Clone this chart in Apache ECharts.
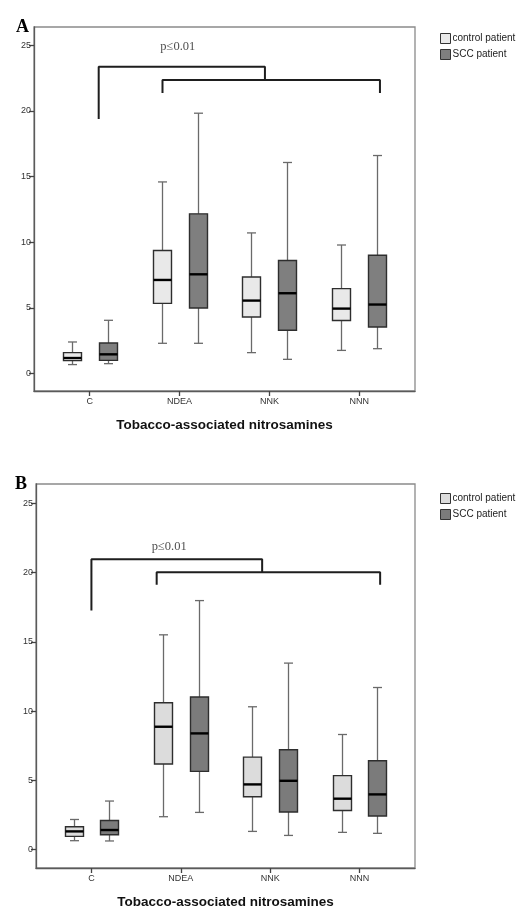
<!DOCTYPE html>
<html>
<head>
<meta charset="utf-8">
<script src="https://cdn.jsdelivr.net/npm/echarts@6/dist/echarts.min.js"></script>
<style>html,body{margin:0;padding:0;background:#fff;}#chart{width:516px;height:921px;}</style>
</head>
<body>
<div id="chart"></div>
<script>
// ---- data ----
const categories = ['C', 'NDEA', 'NNK', 'NNN'];
const yTicks = [0, 5, 10, 15, 20, 25];
const seriesNames = ['control patient', 'SCC patient'];
const axisTitle = 'Tobacco-associated nitrosamines';
const pLabel = 'p\u22640.01';

// [min, Q1, median, Q3, max] per category
const controlA = [
  [0.69, 0.99, 1.19, 1.60, 2.41],
  [2.31, 5.35, 7.13, 9.37, 14.59],
  [1.60, 4.31, 5.56, 7.36, 10.71],
  [1.77, 4.04, 4.95, 6.47, 9.79]
];
const sccA = [
  [0.76, 1.01, 1.47, 2.33, 4.06],
  [2.31, 5.00, 7.56, 12.16, 19.82],
  [1.09, 3.30, 6.12, 8.61, 16.07],
  [1.90, 3.55, 5.26, 9.01, 16.60]
];
const controlB = [
  [0.65, 0.96, 1.32, 1.66, 2.18],
  [2.38, 6.18, 8.87, 10.60, 15.50],
  [1.32, 3.82, 4.71, 6.68, 10.31],
  [1.25, 2.83, 3.68, 5.34, 8.31]
];
const sccB = [
  [0.63, 1.08, 1.42, 2.11, 3.51],
  [2.69, 5.65, 8.39, 11.01, 17.97],
  [1.03, 2.72, 4.97, 7.21, 13.46],
  [1.18, 2.43, 3.99, 6.42, 11.70]
];

// significance brackets: [x (category units), y]
const outerBracketA = [[0.10, 19.37], [0.10, 23.35], [1.95, 23.35], [1.95, 22.34]];
const innerBracketA = [[0.81, 21.35], [0.81, 22.34], [3.23, 22.34], [3.23, 21.35]];
const pTextA = [0.98, 24.87];
const outerBracketB = [[0.00, 17.25], [0.00, 20.96], [1.91, 20.96], [1.91, 20.02]];
const innerBracketB = [[0.73, 19.11], [0.73, 20.02], [3.23, 20.02], [3.23, 19.11]];
const pTextB = [0.87, 21.87];

// ---- build ----
const GROUP_OFFSET = 0.2;
const BOX_HALF = 9;
const CAP_HALF = 4.5;

function toItems(arr, offset) {
  return arr.map((v, i) => [i + offset].concat(v));
}

function boxRender(fill) {
  return function (params, api) {
    const x = api.value(0);
    const pMin = api.coord([x, api.value(1)]);
    const pQ1 = api.coord([x, api.value(2)]);
    const pMed = api.coord([x, api.value(3)]);
    const pQ3 = api.coord([x, api.value(4)]);
    const pMax = api.coord([x, api.value(5)]);
    const cx = Math.round(pMin[0]) + 0.5;
    const wStyle = { stroke: '#6a6a6a', lineWidth: 1.3 };
    return {
      type: 'group',
      children: [
        { type: 'line', shape: { x1: cx, y1: pMax[1], x2: cx, y2: pQ3[1] }, style: wStyle },
        { type: 'line', shape: { x1: cx, y1: pQ1[1], x2: cx, y2: pMin[1] }, style: wStyle },
        { type: 'line', shape: { x1: cx - CAP_HALF, y1: pMax[1], x2: cx + CAP_HALF, y2: pMax[1] }, style: wStyle },
        { type: 'line', shape: { x1: cx - CAP_HALF, y1: pMin[1], x2: cx + CAP_HALF, y2: pMin[1] }, style: wStyle },
        { type: 'rect', shape: { x: cx - BOX_HALF, y: pQ3[1], width: BOX_HALF * 2, height: pQ1[1] - pQ3[1] },
          style: { fill: fill, stroke: '#2e2e2e', lineWidth: 1.4 } },
        { type: 'line', shape: { x1: cx - BOX_HALF, y1: pMed[1], x2: cx + BOX_HALF, y2: pMed[1] },
          style: { stroke: '#000', lineWidth: 2.4 } }
      ]
    };
  };
}

const grids = [
  { left: 34, top: 27, right: 101, bottom: 530 },
  { left: 36, top: 484, right: 101, bottom: 53 }
];

const xAxes = [], yAxes = [];
grids.forEach((g, i) => {
  xAxes.push({
    type: 'value', gridIndex: i, min: -0.62, max: 3.62,
    axisLine: { show: true, onZero: false, lineStyle: { color: '#5a5a5a', width: 1.3 } },
    axisTick: { show: true, customValues: [0, 1, 2, 3], length: 5, lineStyle: { color: '#444', width: 1.3 } },
    axisLabel: { customValues: [0, 1, 2, 3], formatter: v => categories[Math.round(v)] || '',
      fontFamily: 'Liberation Sans, Arial', fontSize: 9, color: '#333', margin: 6 },
    splitLine: { show: false },
    name: axisTitle, nameLocation: 'middle', nameGap: 27,
    nameTextStyle: { fontFamily: 'Liberation Sans, Arial', fontWeight: 'bold', fontSize: 13.5, color: '#111' }
  });
  yAxes.push({
    type: 'value', gridIndex: i, min: -1.32, max: 26.38,
    axisLine: { show: true, onZero: false, lineStyle: { color: '#5a5a5a', width: 1.3 } },
    axisTick: { show: true, customValues: yTicks, length: 5, lineStyle: { color: '#444', width: 1.3 } },
    axisLabel: { customValues: yTicks, fontFamily: 'Liberation Sans, Arial',
      fontSize: 9, color: '#333', margin: 3 },
    splitLine: { show: false }
  });
});

function bracketSeries(data, gi) {
  return {
    type: 'line', xAxisIndex: gi, yAxisIndex: gi, data: data, symbol: 'none', silent: true,
    lineStyle: { color: '#1e1e1e', width: 2 }, animation: false, legendHoverLink: false
  };
}
function pTextSeries(pos, gi) {
  return {
    type: 'scatter', xAxisIndex: gi, yAxisIndex: gi, data: [pos], symbolSize: 0, silent: true,
    label: { show: true, position: 'inside', formatter: pLabel, fontFamily: 'Liberation Serif, Times New Roman, serif',
      fontSize: 12.5, color: '#222' }
  };
}

const fills = [['#e9e9e9', '#7f7f7f'], ['#dcdcdc', '#7b7b7b']];
const dataSets = [[controlA, sccA], [controlB, sccB]];

const series = [];
[0, 1].forEach(gi => {
  [0, 1].forEach(si => {
    series.push({
      type: 'custom', name: seriesNames[si], xAxisIndex: gi, yAxisIndex: gi,
      data: toItems(dataSets[gi][si], si === 0 ? -GROUP_OFFSET : GROUP_OFFSET),
      encode: { x: 0, y: [1, 2, 3, 4, 5] },
      itemStyle: { color: fills[gi][si], borderColor: '#333', borderWidth: 1 },
      renderItem: boxRender(fills[gi][si]),
      animation: false
    });
  });
});
series.push(bracketSeries(outerBracketA, 0), bracketSeries(innerBracketA, 0), pTextSeries(pTextA, 0));
series.push(bracketSeries(outerBracketB, 1), bracketSeries(innerBracketB, 1), pTextSeries(pTextB, 1));

function legendAt(top, gi) {
  return {
    orient: 'vertical', left: 435, top: top, itemWidth: 10, itemHeight: 10, itemGap: 5,
    selectedMode: false,
    data: seriesNames.map((n, si) => ({ name: n, icon: 'rect',
      itemStyle: { color: fills[gi][si], borderColor: '#333', borderWidth: 1 } })),
    textStyle: { fontFamily: 'Liberation Sans, Arial', fontSize: 10, color: '#222',
      padding: [0, 0, 0, -3] }
  };
}

const option = {
  backgroundColor: '#fff',
  animation: false,
  title: [
    { text: 'A', left: 11, top: 13, textStyle: { fontFamily: 'Liberation Serif, Times New Roman, serif', fontWeight: 'bold', fontSize: 18, color: '#000' } },
    { text: 'B', left: 10, top: 470, textStyle: { fontFamily: 'Liberation Serif, Times New Roman, serif', fontWeight: 'bold', fontSize: 18, color: '#000' } }
  ],
  legend: [legendAt(28, 0), legendAt(488, 1)],
  grid: grids.map(g => Object.assign({ show: true, borderColor: '#8a8a8a', borderWidth: 1.3, containLabel: false }, g)),
  xAxis: xAxes,
  yAxis: yAxes,
  series: series
};

const chart = echarts.init(document.getElementById('chart'), null, { renderer: 'canvas' });
chart.setOption(option);
</script>
</body>
</html>
